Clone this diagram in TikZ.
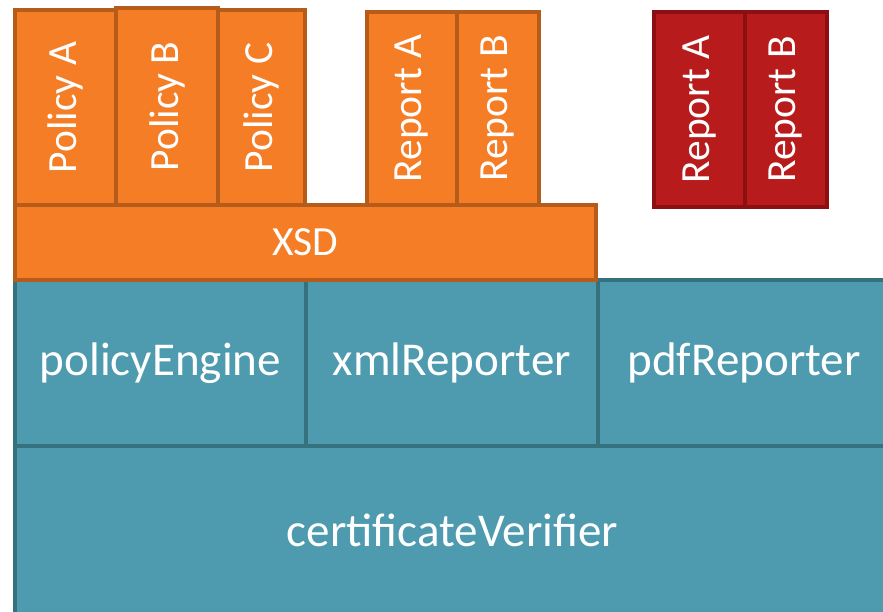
\documentclass[tikz,border=0pt]{standalone}
\usepackage{fontspec}
\setmainfont{Carlito}
\usepackage{tikz}
\usepackage{graphicx}

\definecolor{xsdfill}{RGB}{244,125,38}
\definecolor{xsdline}{RGB}{181,92,27}
\definecolor{libfill}{RGB}{78,154,175}
\definecolor{libline}{RGB}{54,114,126}
\definecolor{pdffill}{RGB}{183,27,27}
\definecolor{pdfline}{RGB}{140,16,18}

\begin{document}
\begin{tikzpicture}[x=0.025cm,y=-0.025cm,
		Block/.style={draw, line width=3pt, inner sep=0pt, text=white},
		boxsize/.style 2 args={minimum width=#1*0.025cm, minimum height=#2*0.025cm},
		Lib/.style={Block, fill=libfill, draw=libline,
			font=\fontsize{33.5}{40}\selectfont},
		Xsd/.style={Block, fill=xsdfill, draw=xsdline,
			font=\fontsize{29.5}{36}\selectfont},
		Pdf/.style={Block, fill=pdffill, draw=pdfline,
			font=\fontsize{29.5}{36}\selectfont}]
			%\draw[help lines] (0,0) grid[step=50] (883,612);
			\useasboundingbox (0,0) rectangle (883,612);
			
			% libraries
			\node[Lib, boxsize={875}{169}] (verifier) at (452.5,530.5) {certificateVerifier};
			\node[Lib, boxsize={291}{166}] (engine) at (160.5,363) {policyEngine};
			\node[Lib, boxsize={292}{166}] (xmlrep) at (452,363) {xmlReporter};
			\node[Lib, boxsize={292}{166}] (pdfrep) at (744,363) {pdfReporter};
			
			% schemas
			\node[Xsd, boxsize={581}{75}] (xsd) at (305.5,242.5) {XSD};
			
			\node[Xsd, boxsize={101}{195}] (polA) at (65.5,107.5) {\rotatebox{90}{Policy A}};
			\node[Xsd, boxsize={102}{197}] (polB) at (167,106.5) {\rotatebox{90}{Policy B}};
			\node[Xsd, boxsize={87}{195}] (polC) at (261.5,107.5) {\rotatebox{90}{Policy C}};
			
			\node[Xsd, boxsize={90}{193}] (repA) at (412,108.5) {\rotatebox{90}{Report A}};
			\node[Xsd, boxsize={82}{193}] (repB) at (498,108.5) {\rotatebox{90}{Report B}};
			
			% pdf reports
			\node[Pdf, boxsize={91}{195}] (pdfA) at (699.5,109.5) {\rotatebox{90}{Report A}};
			\node[Pdf, boxsize={82}{195}] (pdfB) at (786,109.5) {\rotatebox{90}{Report B}};
			
\end{tikzpicture}
\end{document}
